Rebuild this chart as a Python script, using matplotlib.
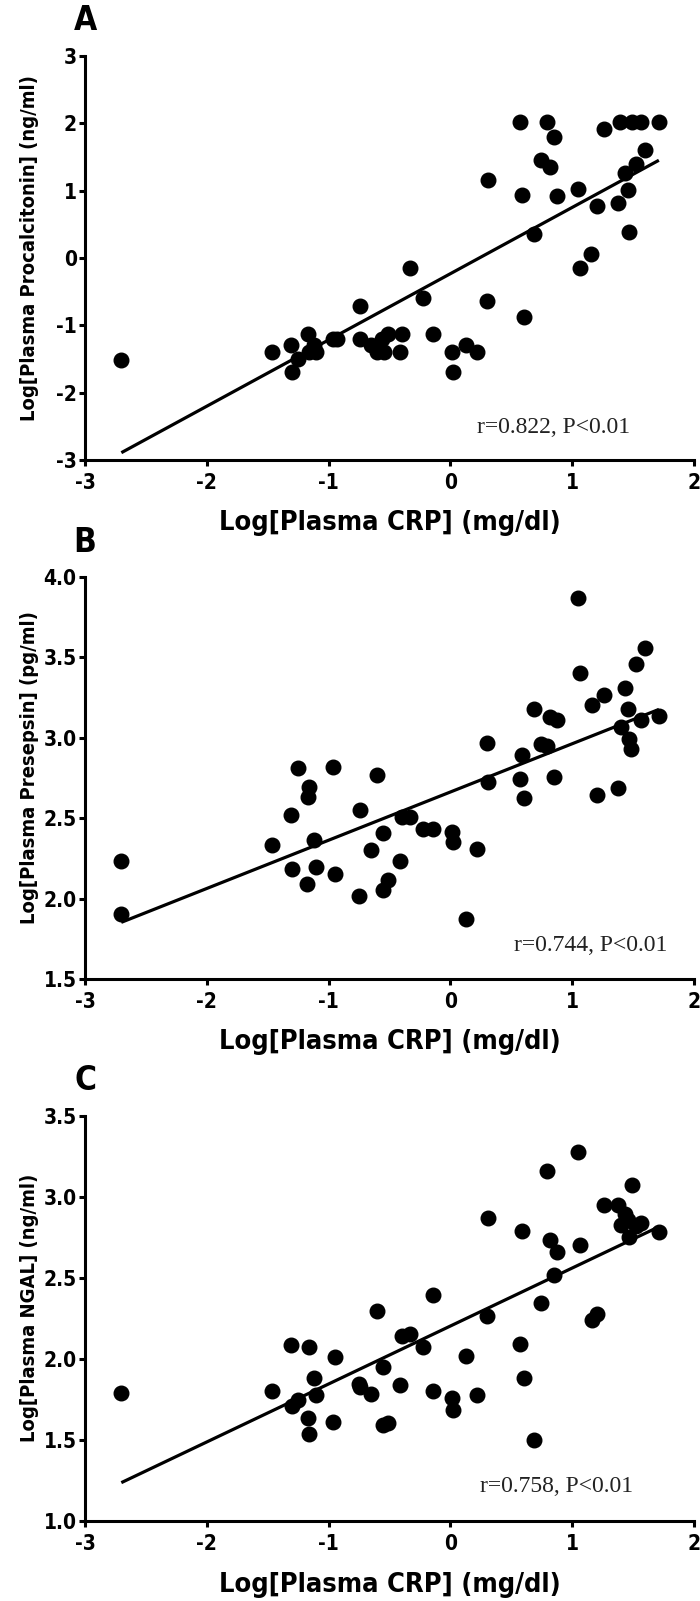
import matplotlib
matplotlib.use('Agg')
import matplotlib.pyplot as plt
import numpy as np

# Log CRP vs three markers
crp_a = [-2.705, -1.464, -1.305, -1.298, -1.254, -1.172, -1.158, -1.121, -1.102, -0.966,
         -0.929, -0.745, -0.745, -0.653, -0.605, -0.561, -0.542, -0.509, -0.410, -0.395,
         -0.332, -0.226, -0.144, 0.010, 0.021, 0.132, 0.217, 0.298, 0.305, 0.574,
         0.589, 0.604, 0.685, 0.747, 0.791, 0.814, 0.847, 0.876, 1.049, 1.068,
         1.156, 1.200, 1.259, 1.374, 1.396, 1.433, 1.458, 1.466, 1.488, 1.525,
         1.562, 1.595, 1.716]
pct = [-1.51, -1.39, -1.29, -1.69, -1.50, -1.13, -1.39, -1.29, -1.39, -1.21,
       -1.21, -0.72, -1.21, -1.29, -1.39, -1.21, -1.39, -1.13, -1.39, -1.13,
       -0.15, -0.60, -1.13, -1.39, -1.69, -1.29, -1.39, -0.64, 1.16, 2.02,
       0.94, -0.87, 0.36, 1.46, 2.02, 1.35, 1.79, 0.92, 1.02, -0.15,
       0.06, 0.77, 1.92, 0.82, 2.02, 1.26, 1.01, 0.39, 2.02, 1.39,
       2.02, 1.61, 2.02]

crp_b = [-2.705, -2.705, -1.464, -1.305, -1.298, -1.250, -1.176, -1.169, -1.158, -1.121,
         -1.106, -0.966, -0.944, -0.752, -0.745, -0.653, -0.605, -0.557, -0.550, -0.513,
         -0.410, -0.395, -0.329, -0.226, -0.144, 0.010, 0.021, 0.132, 0.217, 0.298,
         0.309, 0.574, 0.585, 0.604, 0.685, 0.747, 0.795, 0.814, 0.850, 0.876,
         1.049, 1.068, 1.164, 1.200, 1.259, 1.374, 1.403, 1.433, 1.458, 1.466,
         1.484, 1.525, 1.562, 1.595, 1.716]
presepsin = [2.233, 1.905, 2.331, 2.523, 2.186, 2.815, 2.090, 2.630, 2.694, 2.363,
             2.199, 2.821, 2.156, 2.018, 2.551, 2.303, 2.766, 2.406, 2.054, 2.114,
             2.235, 2.510, 2.510, 2.431, 2.431, 2.416, 2.353, 1.873, 2.310, 2.966,
             2.725, 2.743, 2.890, 2.625, 3.179, 2.964, 2.949, 3.130, 2.757, 3.109,
             3.872, 3.401, 3.205, 2.644, 3.269, 2.687, 3.067, 3.312, 3.177, 2.992,
             2.928, 3.457, 3.109, 3.561, 3.137]

crp_c = [-2.705, -1.464, -1.305, -1.298, -1.254, -1.172, -1.165, -1.158, -1.121, -1.106,
         -0.966, -0.944, -0.752, -0.745, -0.653, -0.605, -0.557, -0.550, -0.509, -0.410,
         -0.395, -0.329, -0.226, -0.144, -0.144, 0.010, 0.021, 0.132, 0.217, 0.298,
         0.309, 0.574, 0.589, 0.604, 0.685, 0.747, 0.791, 0.814, 0.850, 0.876,
         1.049, 1.068, 1.164, 1.200, 1.259, 1.374, 1.403, 1.433, 1.458, 1.466,
         1.488, 1.525, 1.562, 1.716]
ngal = [1.791, 1.801, 2.089, 1.710, 1.746, 1.635, 1.539, 2.076, 1.880, 1.780,
        1.610, 2.014, 1.848, 1.827, 1.784, 2.296, 1.951, 1.593, 1.603, 1.838,
        2.142, 2.157, 2.076, 2.398, 1.801, 1.759, 1.684, 2.019, 1.780, 2.264,
        2.871, 2.093, 2.790, 1.884, 1.497, 2.345, 3.163, 2.737, 2.520, 2.658,
        3.280, 2.701, 2.243, 2.275, 2.950, 2.950, 2.829, 2.893, 2.861, 2.750,
        3.074, 2.822, 2.839, 2.786]

# regression line end points
fit_x = [-2.69, 1.70]
fit_a = [-2.88, 1.44]
fit_b = [1.856, 3.173]
fit_c = [1.241, 2.812]

panels = [
    ('A', crp_a, pct, fit_a, 'Log[Plasma Procalcitonin] (ng/ml)', (-3, 3), [-3, -2, -1, 0, 1, 2, 3],
     ['-3', '-2', '-1', '0', '1', '2', '3'], 'r=0.822, P<0.01', (0.85, -2.51)),
    ('B', crp_b, presepsin, fit_b, 'Log[Plasma Presepsin] (pg/ml)', (1.5, 4.0), [1.5, 2.0, 2.5, 3.0, 3.5, 4.0],
     ['1.5', '2.0', '2.5', '3.0', '3.5', '4.0'], 'r=0.744, P<0.01', (1.15, 1.71)),
    ('C', crp_c, ngal, fit_c, 'Log[Plasma NGAL] (ng/ml)', (1.0, 3.5), [1.0, 1.5, 2.0, 2.5, 3.0, 3.5],
     ['1.0', '1.5', '2.0', '2.5', '3.0', '3.5'], 'r=0.758, P<0.01', (0.87, 1.21)),
]

W, H = 700, 1601
fig = plt.figure(figsize=(W/100, H/100), dpi=100)
bold = dict(family=['Liberation Sans Narrow', 'DejaVu Sans'], fontweight='bold', fontstretch='condensed')

# axes boxes in pixels: left, top, right, bottom
boxes = [(85, 56, 694, 460), (85, 577, 694, 979), (85, 1116, 694, 1521)]

for (letter, xs, ys, fy, ylab, ylim, yt, ytl, note, npos), (l, t, r, b) in zip(panels, boxes):
    ax = fig.add_axes([l/W, 1 - b/H, (r-l)/W, (b-t)/H])
    ax.scatter(xs, ys, s=110, c='black', zorder=3, clip_on=False)
    ax.plot(fit_x, fy, c='black', lw=2.3)
    ax.set_xlim(-3, 2)
    ax.set_ylim(*ylim)
    ax.set_xticks([-3, -2, -1, 0, 1, 2])
    ax.set_xticklabels(['-3', '-2', '-1', '0', '1', '2'], fontsize=15, **bold)
    ax.set_yticks(yt)
    ax.set_yticklabels(ytl, fontsize=15, **bold)
    for s in ['top', 'right']:
        ax.spines[s].set_visible(False)
    for s in ['left', 'bottom']:
        ax.spines[s].set_linewidth(2.2)
    ax.tick_params(width=2.2, length=4.5)
    ax.tick_params(axis='x', pad=5)
    ax.tick_params(axis='y', pad=1.5)
    ax.set_xlabel('Log[Plasma CRP] (mg/dl)', fontsize=19.5, **bold)
    ax.xaxis.set_label_coords(0.5, -0.125)
    ax.set_ylabel(ylab, fontsize=14.5, **bold)
    ax.yaxis.set_label_coords(-0.075, 0.525)
    ax.text(npos[0], npos[1], note, family=['Liberation Serif', 'DejaVu Serif'], fontsize=17,
            color='#222222', ha='center', va='center')
    fig.text(l/W, 1 - (t - 35)/H, letter, fontsize=24, ha='center', va='center', **bold)

fig.savefig('out.png', dpi=100)
